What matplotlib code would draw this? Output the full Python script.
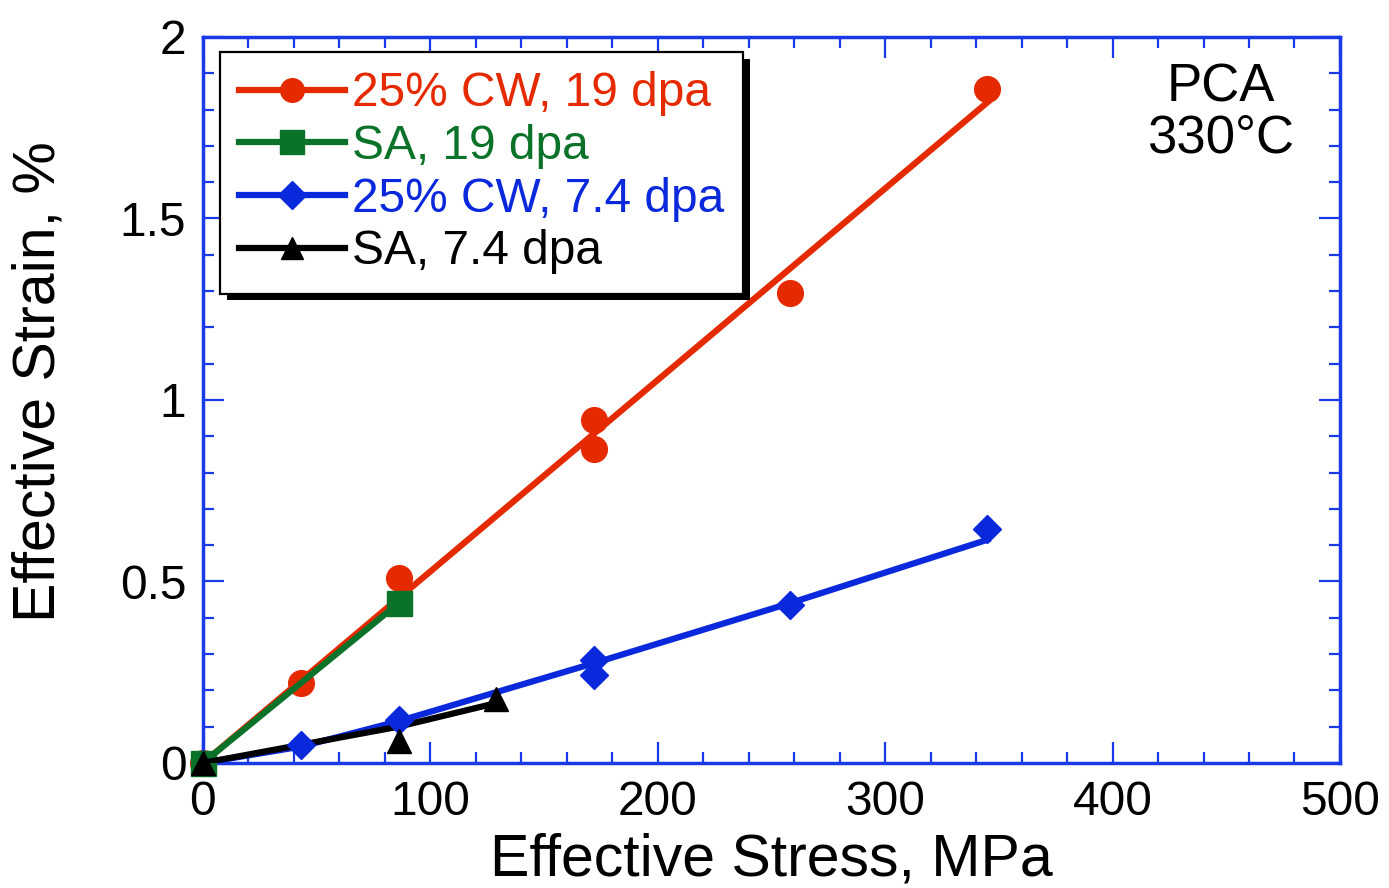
import numpy as np
import matplotlib
matplotlib.use('Agg')
import matplotlib.pyplot as plt
import matplotlib.patheffects as pe
from matplotlib.ticker import MultipleLocator, FuncFormatter

plt.rcParams['font.family'] = ['Liberation Sans', 'DejaVu Sans']

# 25% CW, 19 dpa
cw19_x = [0, 43, 86, 172, 172, 258, 345]
cw19_y = [0, 0.22, 0.51, 0.945, 0.865, 1.295, 1.857]
cw19_fit_x = [0, 345]
cw19_fit_y = [0, 1.82]

# SA, 19 dpa
sa19_x = [0, 86]
sa19_y = [0, 0.44]

# 25% CW, 7.4 dpa
cw74_x = [0, 43, 86, 172, 172, 258, 345]
cw74_y = [0, 0.05, 0.118, 0.284, 0.242, 0.435, 0.645]
cw74_fit_x = [0, 43, 86, 172, 258, 345]
cw74_fit_y = [0, 0.045, 0.115, 0.275, 0.44, 0.615]

# SA, 7.4 dpa
sa74_x = [0, 86, 129]
sa74_y = [0, 0.06, 0.175]
sa74_fit_x = [0, 86, 129]
sa74_fit_y = [0, 0.10, 0.165]

labels = ['25% CW, 19 dpa', 'SA, 19 dpa', '25% CW, 7.4 dpa', 'SA, 7.4 dpa']

red = '#e52a00'
green = '#0b7229'
blue = '#0a28dc'
frame_blue = '#1a3ae8'

fig = plt.figure(figsize=(13.89, 8.88), dpi=100)
ax = fig.add_axes([0.1461, 0.1408, 0.8186, 0.8176])

lw = 4.5
ax.plot(cw19_fit_x, cw19_fit_y, color=red, lw=lw, zorder=2)
ax.plot(cw19_x, cw19_y, 'o', color=red, ms=18.5, zorder=2, clip_on=False)

ax.plot(sa19_x, sa19_y, color=green, lw=lw, zorder=3)
ax.plot(sa19_x, sa19_y, 's', color=green, ms=18, zorder=3, clip_on=False)

ax.plot(cw74_fit_x, cw74_fit_y, color=blue, lw=lw, zorder=3)
ax.plot(sa74_fit_x, sa74_fit_y, color='black', lw=lw, zorder=3.5)
ax.plot(cw74_x[1:], cw74_y[1:], 'D', color=blue, ms=14, zorder=4, clip_on=False)
ax.plot(sa74_x, sa74_y, '^', color='black', ms=17, zorder=5, clip_on=False)

# legend handles (line + marker)
handles = [
    plt.Line2D([], [], color=red, lw=lw, marker='o', ms=17),
    plt.Line2D([], [], color=green, lw=lw, marker='s', ms=17),
    plt.Line2D([], [], color=blue, lw=lw, marker='D', ms=14),
    plt.Line2D([], [], color='black', lw=lw, marker='^', ms=16),
]
leg = ax.legend(handles, labels, loc='upper left', bbox_to_anchor=(0.015, 0.979),
                borderaxespad=0, fontsize=34.5, handlelength=2.2, handletextpad=0.15,
                labelspacing=0.16, borderpad=0.4, fancybox=False, framealpha=1,
                edgecolor='black')
leg.set_zorder(10)
leg.get_frame().set_linewidth(1.6)
leg.get_frame().set_path_effects([
    pe.SimplePatchShadow(offset=(5, -5), shadow_rgbFace='black', alpha=1.0),
    pe.Normal()])
for txt, c in zip(leg.get_texts(), [red, green, blue, 'black']):
    txt.set_color(c)

ax.text(0.895, 0.965, 'PCA\n330\u00b0C', transform=ax.transAxes, ha='center', va='top',
        fontsize=38, linespacing=1.02)

ax.set_xlim(0, 500)
ax.set_ylim(0, 2)
ax.xaxis.set_major_locator(MultipleLocator(100))
ax.xaxis.set_minor_locator(MultipleLocator(20))
ax.yaxis.set_major_locator(MultipleLocator(0.5))
ax.yaxis.set_minor_locator(MultipleLocator(0.1))
ax.yaxis.set_major_formatter(FuncFormatter(lambda v, p: '%g' % v))

ax.tick_params(which='both', direction='in', top=True, right=True, color=frame_blue,
               width=1.6, labelsize=34.5)
ax.tick_params(which='major', length=15, pad=12)
ax.tick_params(which='minor', length=8)

for s in ax.spines.values():
    s.set_color(frame_blue)
    s.set_linewidth(2.5)

ax.set_xlabel('Effective Stress, MPa', fontsize=42.5, labelpad=6)
ax.set_ylabel('Effective Strain, %', fontsize=42.5)
ax.yaxis.set_label_coords(-0.12, 0.526)

fig.savefig('out.png', dpi=100)
